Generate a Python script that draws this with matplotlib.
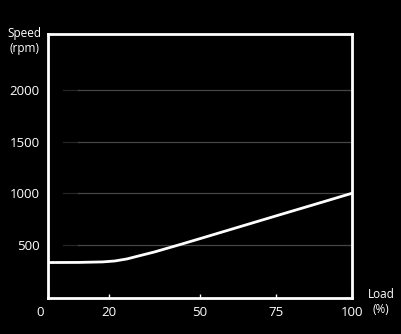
import numpy as np
import matplotlib.pyplot as plt
from matplotlib.transforms import ScaledTranslation

# load (%) vs speed (rpm)
load = [0, 10, 18, 22, 26, 30, 35, 43, 50, 60, 75, 90, 100]
speed = [330, 331, 336, 345, 365, 395, 432, 500, 561, 649, 781, 912, 1000]

x_ticks = [0, 20, 50, 75, 100]
y_grid = [500, 1000, 1500, 2000]

plt.rcParams['font.family'] = ['Open Sans', 'DejaVu Sans']

fig = plt.figure(figsize=(4.01, 3.34), dpi=100, facecolor='black')
W, H = 401, 334
ax = fig.add_axes([48 / W, (H - 298) / H, 304 / W, (298 - 34) / H])
ax.set_facecolor('black')

# grid lines fade in from the left
for g in y_grid:
    ax.axhline(g, xmin=0.05, xmax=0.1, color='#262626', lw=0.9, zorder=1)
    ax.axhline(g, xmin=0.1, xmax=1, color='#454545', lw=0.9, zorder=1)

ax.plot(load, speed, color='white', lw=2.0, zorder=3, solid_capstyle='round')

ax.set_xlim(0, 100)
ax.set_ylim(-13, 2540)

for s in ax.spines.values():
    s.set_color('white')
    s.set_linewidth(2.0)

ax.set_xticks(x_ticks)
ax.set_xticklabels([str(v) for v in x_ticks])
ax.set_yticks(y_grid)
ax.set_yticklabels([str(v) for v in y_grid])
ax.tick_params(axis='x', direction='in', length=3, width=1, color='white',
               colors='white', labelsize=9.5, pad=6)
ax.tick_params(axis='y', length=0, colors='white', labelsize=9.5, pad=6)

lab0 = ax.get_xticklabels()[0]
lab0.set_horizontalalignment('right')
lab0.set_transform(lab0.get_transform() + ScaledTranslation(-4 / 100, 0, fig.dpi_scale_trans))

fig.text(24 / W, 1 - 34 / H, 'Speed', color='white', fontsize=8.5, ha='center', va='center')
fig.text(24 / W, 1 - 48.5 / H, '(rpm)', color='white', fontsize=8.5, ha='center', va='center')
fig.text(381 / W, 1 - 295 / H, 'Load', color='white', fontsize=8.5, ha='center', va='center')
fig.text(381 / W, 1 - 309.5 / H, '(%)', color='white', fontsize=8.5, ha='center', va='center')

fig.savefig('out.png', dpi=100, facecolor='black')
